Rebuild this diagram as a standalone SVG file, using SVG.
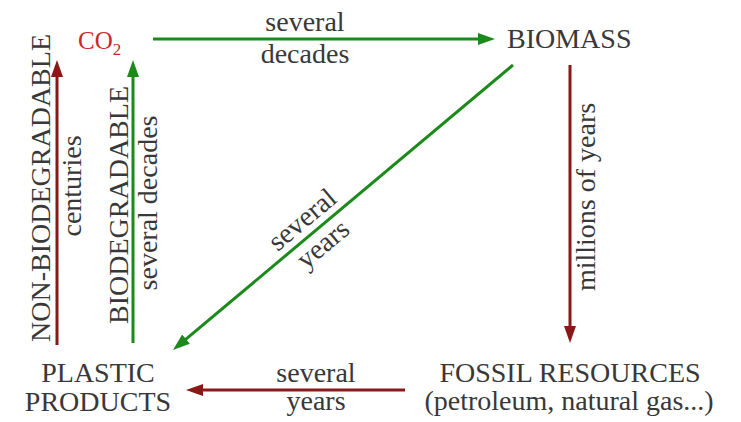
<svg xmlns="http://www.w3.org/2000/svg" width="741" height="422" viewBox="0 0 741 422">
  <style>
    .t { font-family: "Liberation Serif", "Times New Roman", serif; font-size: 28px; fill: #383838; }
    .m { text-anchor: middle; }
    .g { stroke: #1b8a1b; stroke-width: 3; fill: none; }
    .r { stroke: #8a1818; stroke-width: 3; fill: none; }
  </style>
  <defs>
    <marker id="ag" markerUnits="userSpaceOnUse" markerWidth="18" markerHeight="14" refX="9" refY="6.5" orient="auto">
      <path d="M0,0.5 L17,6.5 L0,12.5 z" fill="#1b8a1b"/>
    </marker>
    <marker id="ar" markerUnits="userSpaceOnUse" markerWidth="18" markerHeight="14" refX="9" refY="6.5" orient="auto">
      <path d="M0,0.5 L17,6.5 L0,12.5 z" fill="#8a1818"/>
    </marker>
  </defs>
  <rect width="741" height="422" fill="#ffffff"/>

  <g id="connectors">
    <line class="g" x1="153" y1="39" x2="487" y2="39" marker-end="url(#ag)"/>
    <line class="r" x1="570" y1="65" x2="570" y2="335" marker-end="url(#ar)"/>
    <line class="g" x1="513" y1="65" x2="179.1" y2="344.9" marker-end="url(#ag)"/>
    <line class="r" x1="405" y1="390" x2="194" y2="390" marker-end="url(#ar)"/>
    <line class="r" x1="57" y1="345" x2="57" y2="68" marker-end="url(#ar)"/>
    <line class="g" x1="133" y1="343" x2="133" y2="68" marker-end="url(#ag)"/>
  </g>

  <g id="edge-labels">
    <text class="t m" x="305" y="31">several</text>
    <text class="t m" x="305" y="63">decades</text>
    <text class="t m" transform="translate(595,197) rotate(-90)">millions of years</text>
    <g transform="translate(314,232) rotate(-40)">
      <text class="t m" x="-1" y="-8">several</text>
      <text class="t m" x="-1" y="24">years</text>
    </g>
    <text class="t m" x="316" y="382">several</text>
    <text class="t m" x="316" y="410">years</text>
    <text class="t m" transform="translate(50,188) rotate(-90)">NON-BIODEGRADABLE</text>
    <text class="t m" transform="translate(81,186) rotate(-90)">centuries</text>
    <text class="t m" transform="translate(128,205) rotate(-90)">BIODEGRADABLE</text>
    <text class="t m" transform="translate(157,203) rotate(-90)">several decades</text>
  </g>

  <g id="co2">
    <text class="t" x="78" y="49" style="fill:#c82828;font-size:25px">CO<tspan font-size="17" dy="6">2</tspan></text>
  </g>
  <g id="biomass">
    <text class="t" x="507" y="48">BIOMASS</text>
  </g>
  <g id="fossil-resources">
    <text class="t m" x="570" y="382">FOSSIL RESOURCES</text>
    <text class="t m" x="569" y="410">(petroleum, natural gas...)</text>
  </g>
  <g id="plastic-products">
    <text class="t m" x="98" y="382">PLASTIC</text>
    <text class="t m" x="98" y="411">PRODUCTS</text>
  </g>
</svg>
